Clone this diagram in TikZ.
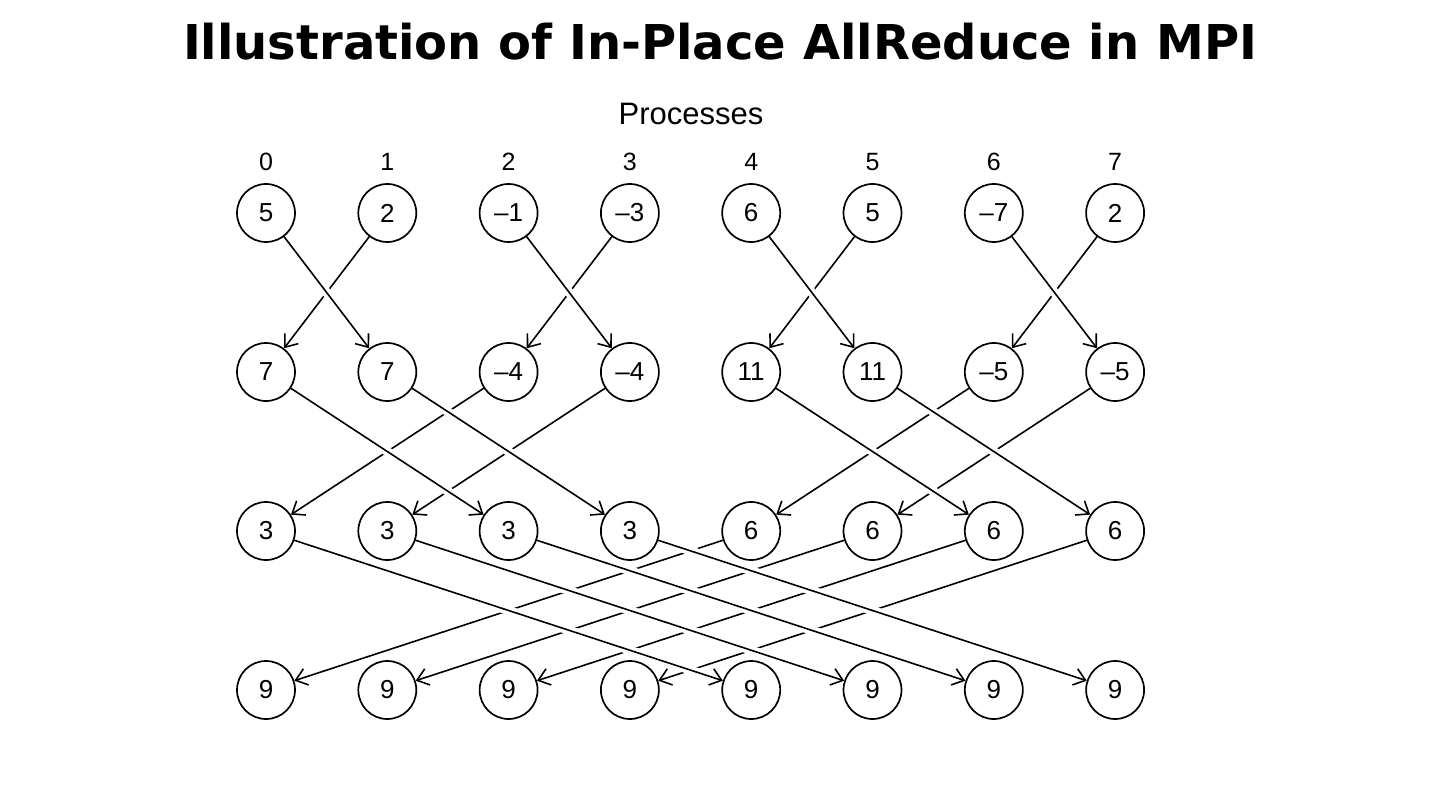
\documentclass[tikz,border=0pt]{standalone}
\usepackage{fontspec}
\setmainfont{Liberation Sans}
\newfontfamily\titlefont{DejaVu Sans}
\usetikzlibrary{arrows.meta}

\begin{document}
\begin{tikzpicture}[
    x=1pt,
    y=-1pt,
    every path/.style={line cap=round,line join=round},
    proc/.style={draw,circle,line width=1.7pt,minimum size=58pt,inner sep=0pt,
      font=\fontsize{26}{26}\selectfont},
    rank/.style={inner sep=0pt,font=\fontsize{25}{25}\selectfont},
    send/.style={line width=1.6pt,
      -{Straight Barb[length=11pt,width=17pt,line width=1.6pt]}},
    over/.style={preaction={draw=white,line width=9pt,arrows=-,
      shorten <=16pt,shorten >=16pt}}
  ]
    \useasboundingbox (0,0) rectangle (1440,810);

    % Heading and process ranks.
    \node[font=\titlefont\bfseries\fontsize{48}{48}\selectfont,inner sep=0pt]
      (title) at (720,42) {Illustration of In-Place AllReduce in MPI};
    \node[font=\fontsize{31}{31}\selectfont,inner sep=0pt]
      (procs) at (691,114) {Processes};
    \foreach \c in {0,...,7}{%
      \node[rank] (rank\c) at ({266+121.3*\c},162) {\c};
    }

    % Values held by every process after each step.
    \foreach \val [count=\c from 0] in {5,2,–1,–3,6,5,–7,2}{%
      \node[proc] (n1-\c) at ({266+121.3*\c},213) {\val};
    }
    \foreach \val [count=\c from 0] in {7,7,–4,–4,11,11,–5,–5}{%
      \node[proc] (n2-\c) at ({266+121.3*\c},372) {\val};
    }
    \foreach \val [count=\c from 0] in {3,3,3,3,6,6,6,6}{%
      \node[proc] (n3-\c) at ({266+121.3*\c},531) {\val};
    }
    \foreach \val [count=\c from 0] in {9,9,9,9,9,9,9,9}{%
      \node[proc] (n4-\c) at ({266+121.3*\c},690) {\val};
    }

    % Exchanges towards the lower rank pass underneath.
    \foreach \r/\s/\a/\b in {1/2/0/1,1/2/2/3,1/2/4/5,1/2/6/7,
                             2/3/0/2,2/3/1/3,2/3/4/6,2/3/5/7,
                             3/4/0/4,3/4/1/5,3/4/2/6,3/4/3/7}{%
      \draw[send] (n\r-\b) -- (n\s-\a);
    }
    % Exchanges towards the higher rank cross over them.
    \foreach \r/\s/\a/\b in {1/2/0/1,1/2/2/3,1/2/4/5,1/2/6/7,
                             2/3/0/2,2/3/1/3,2/3/4/6,2/3/5/7,
                             3/4/0/4,3/4/1/5,3/4/2/6,3/4/3/7}{%
      \draw[send,over] (n\r-\a) -- (n\s-\b);
    }
  \end{tikzpicture}
\end{document}
